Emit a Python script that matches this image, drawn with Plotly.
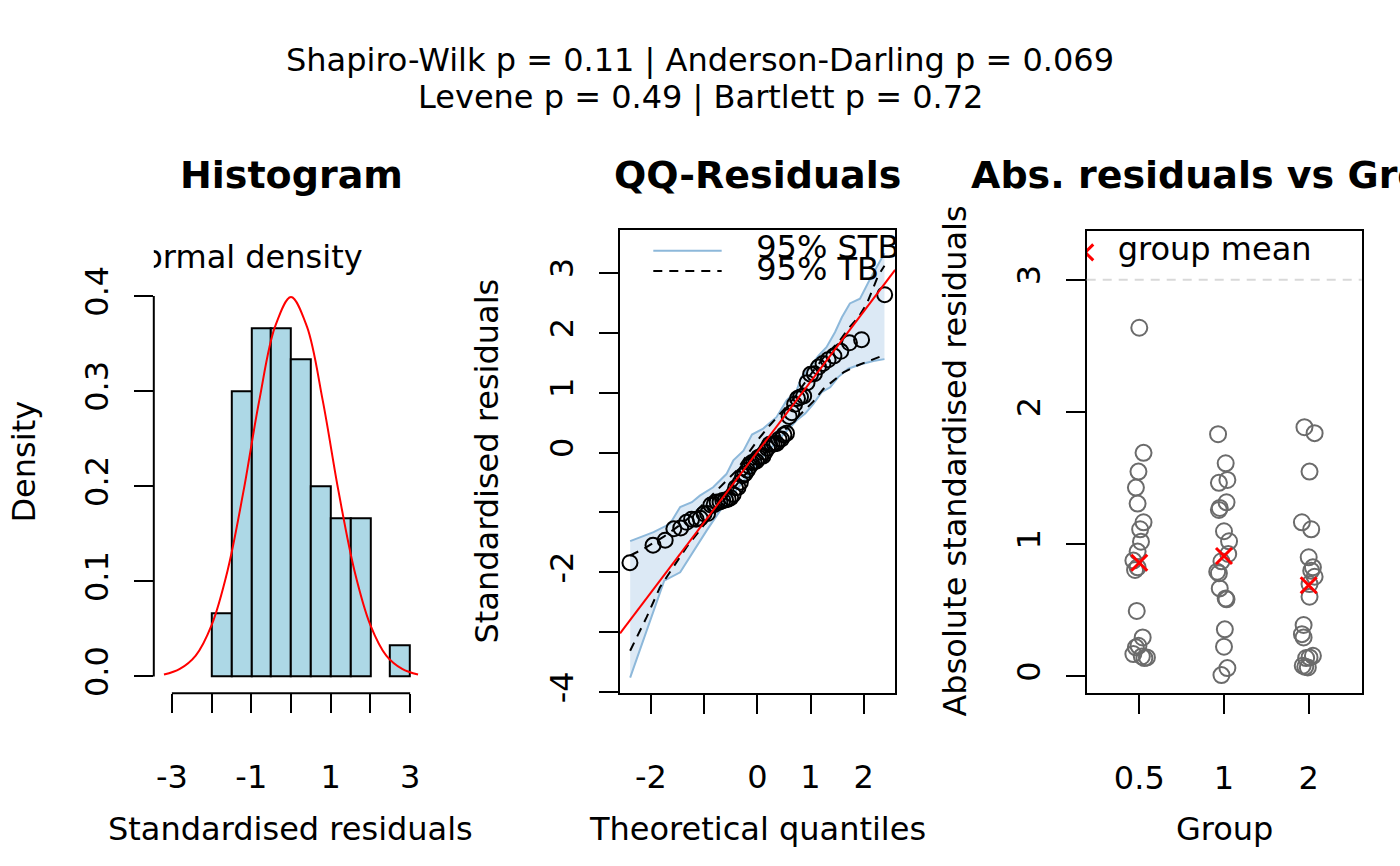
import plotly.graph_objects as go
import numpy as np
from statistics import NormalDist

# Data ##################################
#########################################

# standardised residuals per group (signed)
res_g05 = [2.637, 1.691, -1.549, 1.428, 1.307, -1.166, -1.113, -1.019, 0.944, -0.876,
           -0.825, 0.805, -0.495, 0.295, -0.232, 0.220, -0.169, 0.151, -0.144, 0.139]
res_g1 = [1.832, 1.612, 1.486, -1.464, 1.317, -1.274, -1.259, -1.098, -1.022, 0.926,
          -0.871, -0.792, -0.780, 0.666, -0.590, -0.583, -0.356, 0.225, -0.063, 0.010]
res_g2 = [1.885, -1.840, 1.549, 1.166, -1.113, 0.901, -0.825, -0.800, -0.754, -0.699,
          0.603, -0.389, 0.320, -0.295, -0.156, 0.144, 0.139, -0.081, 0.073, -0.068]

# horizontal jitter of the points in the third panel
jit_g05 = [0.00, 0.05, -0.01, -0.04, -0.02, 0.05, 0.01, 0.02, -0.02, -0.07,
           -0.02, -0.05, -0.03, 0.04, -0.01, -0.04, -0.07, 0.03, 0.09, 0.06]
jit_g1 = [-0.07, 0.02, 0.04, -0.06, 0.03, -0.05, -0.06, 0.00, 0.06, 0.05,
          -0.03, -0.08, -0.06, -0.05, 0.02, 0.03, 0.01, 0.00, 0.04, -0.03]
jit_g2 = [-0.05, 0.07, 0.01, -0.08, 0.03, 0.00, 0.05, 0.03, 0.07, 0.01,
          0.01, -0.06, -0.08, -0.06, 0.05, 0.01, -0.03, -0.07, -0.04, -0.01]

group_labels = ["0.5", "1", "2"]

# normal density curve
norm_x = [-3.2, -2.8, -2.4, -2.0, -1.6, -1.2, -0.8, -0.4, 0.0, 0.4, 0.8, 1.2, 1.6, 2.0, 2.4, 2.8, 3.2]
norm_y = [0.002, 0.008, 0.022, 0.054, 0.111, 0.194, 0.290, 0.368, 0.399, 0.368, 0.290,
          0.194, 0.111, 0.054, 0.022, 0.008, 0.002]

# QQ reference line (end points)
qq_line_x = [-2.58, 2.59]
qq_line_y = [-3.02, 3.05]

# 95% simultaneous band (STB)
stb_up_x = [-2.39, -1.95, -1.64, -1.45, -1.23, -1.08, -0.83, -0.58, -0.45, -0.26, -0.10, 0.11, 0.36,
            0.55, 0.74, 0.83, 0.99, 1.15, 1.30, 1.46, 1.59, 1.74, 1.93, 2.12, 2.39]
stb_up_y = [-1.48, -1.33, -1.19, -0.91, -0.83, -0.72, -0.58, -0.36, -0.13, 0.03, 0.30, 0.40, 0.59,
            0.87, 1.04, 1.26, 1.43, 1.62, 1.76, 2.01, 2.26, 2.49, 2.57, 2.90, 3.33]
stb_lo_x = [-2.39, -1.75, -1.45, -1.20, -0.95, -0.70, -0.45, -0.20, 0.05, 0.30, 0.52, 0.74, 0.90,
            1.05, 1.21, 1.37, 1.52, 1.71, 1.93, 2.18, 2.39]
stb_lo_y = [-3.76, -2.14, -2.00, -1.64, -1.30, -0.97, -0.69, -0.41, -0.13, 0.12, 0.33, 0.54, 0.65,
            0.81, 1.01, 1.09, 1.26, 1.40, 1.47, 1.53, 1.56]

# 95% pointwise band (TB)
tb_up_x = [-2.39, -2.14, -1.75, -1.39, -1.14, -0.89, -0.64, -0.39, -0.20, 0.00, 0.24, 0.43, 0.68,
           1.00, 1.24, 1.55, 1.71, 1.90, 2.06, 2.27, 2.39]
tb_up_y = [-1.72, -1.61, -1.40, -1.17, -0.97, -0.75, -0.52, -0.30, -0.05, 0.20, 0.46, 0.65, 0.90,
           1.30, 1.58, 1.87, 2.07, 2.26, 2.49, 2.95, 3.12]
tb_lo_x = [-2.39, -2.08, -1.83, -1.58, -1.33, -1.08, -0.83, -0.58, -0.33, -0.08, 0.20, 0.43, 0.80,
           1.05, 1.24, 1.40, 1.62, 1.87, 2.12, 2.39]
tb_lo_y = [-3.31, -2.75, -2.25, -1.92, -1.58, -1.30, -1.00, -0.75, -0.47, -0.22, 0.05, 0.30, 0.62,
           0.85, 1.06, 1.18, 1.34, 1.45, 1.54, 1.63]

subtitle_1 = "Shapiro-Wilk p = 0.11 | Anderson-Darling p = 0.069"
subtitle_2 = "Levene p = 0.49 | Bartlett p = 0.72"


# Helpers ###############################
#########################################

W, H = 1400, 866      # picture size, positions below are given in these pixels
H_PAGE = 877          # the photographed page comes out ~1.3% squeezed vertically
FONT = "DejaVu Sans"


def fx(p):
    return p / W


def fy(p):
    return 1 - p / H


all_res = np.array(res_g05 + res_g1 + res_g2)
n = len(all_res)
qq_y = np.sort(all_res)
qq_x = [NormalDist().inv_cdf((i + 0.5) / n) for i in range(n)]

groups = [res_g05, res_g1, res_g2]
jitters = [jit_g05, jit_g1, jit_g2]
abs_means = [float(np.mean(np.abs(g))) for g in groups]


# Figure ################################
#########################################

fig = go.Figure()

# Panel 1: histogram
fig.add_trace(go.Histogram(
    x=all_res, xbins=dict(start=-2, end=3, size=0.5), histnorm="probability density",
    marker=dict(color="#ADD8E6", line=dict(color="black", width=2)),
    xaxis="x", yaxis="y",
))
fig.add_trace(go.Scatter(
    x=norm_x, y=norm_y, mode="lines", line=dict(color="red", width=2, shape="spline"),
    xaxis="x", yaxis="y",
))
fig.add_trace(go.Scatter(
    x=[-1.26], y=[0.4376], mode="text", text=["Normal density"],
    textfont=dict(family=FONT, size=32, color="black"), textposition="middle center",
    xaxis="x", yaxis="y",
))

# Panel 2: QQ plot
fig.add_trace(go.Scatter(
    x=stb_up_x + stb_lo_x[::-1], y=stb_up_y + stb_lo_y[::-1], fill="toself",
    fillcolor="rgba(198,219,239,0.62)", line=dict(width=0), mode="lines",
    xaxis="x2", yaxis="y2",
))
for xs, ys in [(stb_up_x, stb_up_y), (stb_lo_x, stb_lo_y)]:
    fig.add_trace(go.Scatter(x=xs, y=ys, mode="lines", line=dict(color="#8DB8DA", width=2),
                             xaxis="x2", yaxis="y2"))
for xs, ys in [(tb_up_x, tb_up_y), (tb_lo_x, tb_lo_y)]:
    fig.add_trace(go.Scatter(x=xs, y=ys, mode="lines",
                             line=dict(color="black", width=2, dash="9px,7px"),
                             xaxis="x2", yaxis="y2"))
fig.add_trace(go.Scatter(
    x=qq_x, y=qq_y, mode="markers",
    marker=dict(symbol="circle-open", size=15, color="black", line=dict(width=2)),
    xaxis="x2", yaxis="y2",
))
fig.add_trace(go.Scatter(x=qq_line_x, y=qq_line_y, mode="lines", line=dict(color="red", width=2),
                         xaxis="x2", yaxis="y2"))
# legend of panel 2
fig.add_trace(go.Scatter(x=[-1.955, -0.67], y=[3.37, 3.37], mode="lines",
                         line=dict(color="#8DB8DA", width=2), xaxis="x2", yaxis="y2"))
fig.add_trace(go.Scatter(x=[-1.955, -0.67], y=[3.03, 3.03], mode="lines",
                         line=dict(color="black", width=2, dash="9px,7px"), xaxis="x2", yaxis="y2"))
fig.add_trace(go.Scatter(
    x=[-0.02, -0.02], y=[3.38, 3.01], mode="text", text=["95% STB", "95% TB"],
    textposition="middle right", textfont=dict(family=FONT, size=32, color="black"),
    xaxis="x2", yaxis="y2",
))

# Panel 3: absolute residuals by group
for k, (g, j) in enumerate(zip(groups, jitters)):
    fig.add_trace(go.Scatter(
        x=[k + 1 + d for d in j], y=np.abs(g), mode="markers",
        marker=dict(symbol="circle-open", size=16, color="#6B6B6B", line=dict(width=2)),
        xaxis="x3", yaxis="y3",
    ))
fig.add_trace(go.Scatter(
    x=[1, 2, 3], y=abs_means, mode="markers",
    marker=dict(symbol="x-thin-open", size=16, color="red", line=dict(width=3, color="red")),
    xaxis="x3", yaxis="y3",
))
fig.add_trace(go.Scatter(
    x=[0.362], y=[3.207], mode="markers",
    marker=dict(symbol="x-thin-open", size=16, color="red", line=dict(width=3, color="red")),
    xaxis="x3", yaxis="y3",
))
fig.add_trace(go.Scatter(
    x=[1.89], y=[3.207], mode="text", text=["group mean"], textposition="middle center",
    textfont=dict(family=FONT, size=32, color="black"), xaxis="x3", yaxis="y3",
))

tick_font = dict(family=FONT, size=32, color="black")
common = dict(showgrid=False, zeroline=False, ticks="outside", ticklen=19, tickwidth=2,
              tickcolor="black", tickfont=tick_font)
boxed = dict(showline=True, mirror=True, linewidth=2, linecolor="black")

fig.update_layout(
    width=W, height=H_PAGE, margin=dict(l=0, r=0, t=0, b=0), autosize=False,
    paper_bgcolor="white", plot_bgcolor="white", showlegend=False,
    font=dict(family=FONT, size=32, color="black"),
    xaxis=dict(domain=[fx(153.8), fx(428.2)], range=[-3.456, 3.456], anchor="y",
               tickvals=[-3, -2, -1, 0, 1, 2, 3], ticktext=["-3", "", "-1", "", "1", "", "3"],
               ticklabelstandoff=36, showline=False, **common),
    yaxis=dict(domain=[fy(692.4), fy(241.9)], range=[-0.0176, 0.4566], anchor="x",
               tickvals=[0, 0.1, 0.2, 0.3, 0.4], ticktext=["0.0", "0.1", "0.2", "0.3", "0.4"],
               tickangle=-90, ticklabelstandoff=13, showline=False, **common),
    xaxis2=dict(domain=[fx(620), fx(895)], range=[-2.581, 2.588], anchor="y2",
                tickvals=[-2, -1, 0, 1, 2], ticktext=["-2", "", "0", "1", "2"],
                ticklabelstandoff=36, **common, **boxed),
    yaxis2=dict(domain=[fy(692.3), fy(229.3)], range=[-4.018, 3.724], anchor="x2",
                tickvals=[-4, -3, -2, -1, 0, 1, 2, 3], ticktext=["-4", "", "-2", "", "0", "1", "2", "3"],
                tickangle=-90, ticklabelstandoff=13, **common, **boxed),
    xaxis3=dict(domain=[fx(1086.7), fx(1361.7)], range=[0.379, 3.626], anchor="y3",
                tickvals=[1, 2, 3], ticktext=group_labels,
                ticklabelstandoff=36, **common, **boxed),
    yaxis3=dict(domain=[fy(692.7), fy(230.7)], range=[-0.129, 3.369], anchor="x3",
                tickvals=[0, 1, 2, 3], ticktext=["0", "1", "2", "3"],
                tickangle=-90, ticklabelstandoff=13, **common, **boxed),
)

# axis lines of the histogram (only across the tick range)
fig.add_shape(type="line", xref="x", yref="y domain", x0=-3, x1=3, y0=0, y1=0,
              line=dict(color="black", width=2))
fig.add_shape(type="line", xref="x domain", yref="y", x0=0, x1=0, y0=0, y1=0.4,
              line=dict(color="black", width=2))
# reference line at 3 in panel 3
fig.add_shape(type="line", xref="x3 domain", yref="y3", x0=0, x1=1, y0=3, y1=3,
              line=dict(color="#D9D9D9", width=2, dash="9px,7px"))

annots = [
    (subtitle_1, 700, 60, 32, 0),
    (subtitle_2, 700, 97, 32, 0),
    ("<b>Histogram</b>", 291, 175, 38, 0),
    ("<b>QQ-Residuals</b>", 757.5, 175, 38, 0),
    ("<b>Abs. residuals vs Group</b>", 1224, 175, 38, 0),
    ("Standardised residuals", 290, 828, 32, 0),
    ("Theoretical quantiles", 757.5, 828, 32, 0),
    ("Group", 1224, 828, 32, 0),
    ("Density", 24, 461, 32, -90),
    ("Standardised residuals", 487, 461, 32, -90),
    ("Absolute standardised residuals", 955, 461, 32, -90),
]
for text, x, y, size, angle in annots:
    fig.add_annotation(text=text, x=fx(x), y=fy(y), xref="paper", yref="paper",
                       xanchor="center", yanchor="middle", showarrow=False, textangle=angle,
                       font=dict(family=FONT, size=size, color="black"))

# no page margin or scrollbars, so the figure fills the window exactly
page_fix = ("document.body.style.margin='0';"
            "document.body.style.overflow='hidden';"
            "document.documentElement.style.overflow='hidden';")
fig.write_html("out.html", config={"displayModeBar": False, "responsive": False},
               post_script=page_fix)
